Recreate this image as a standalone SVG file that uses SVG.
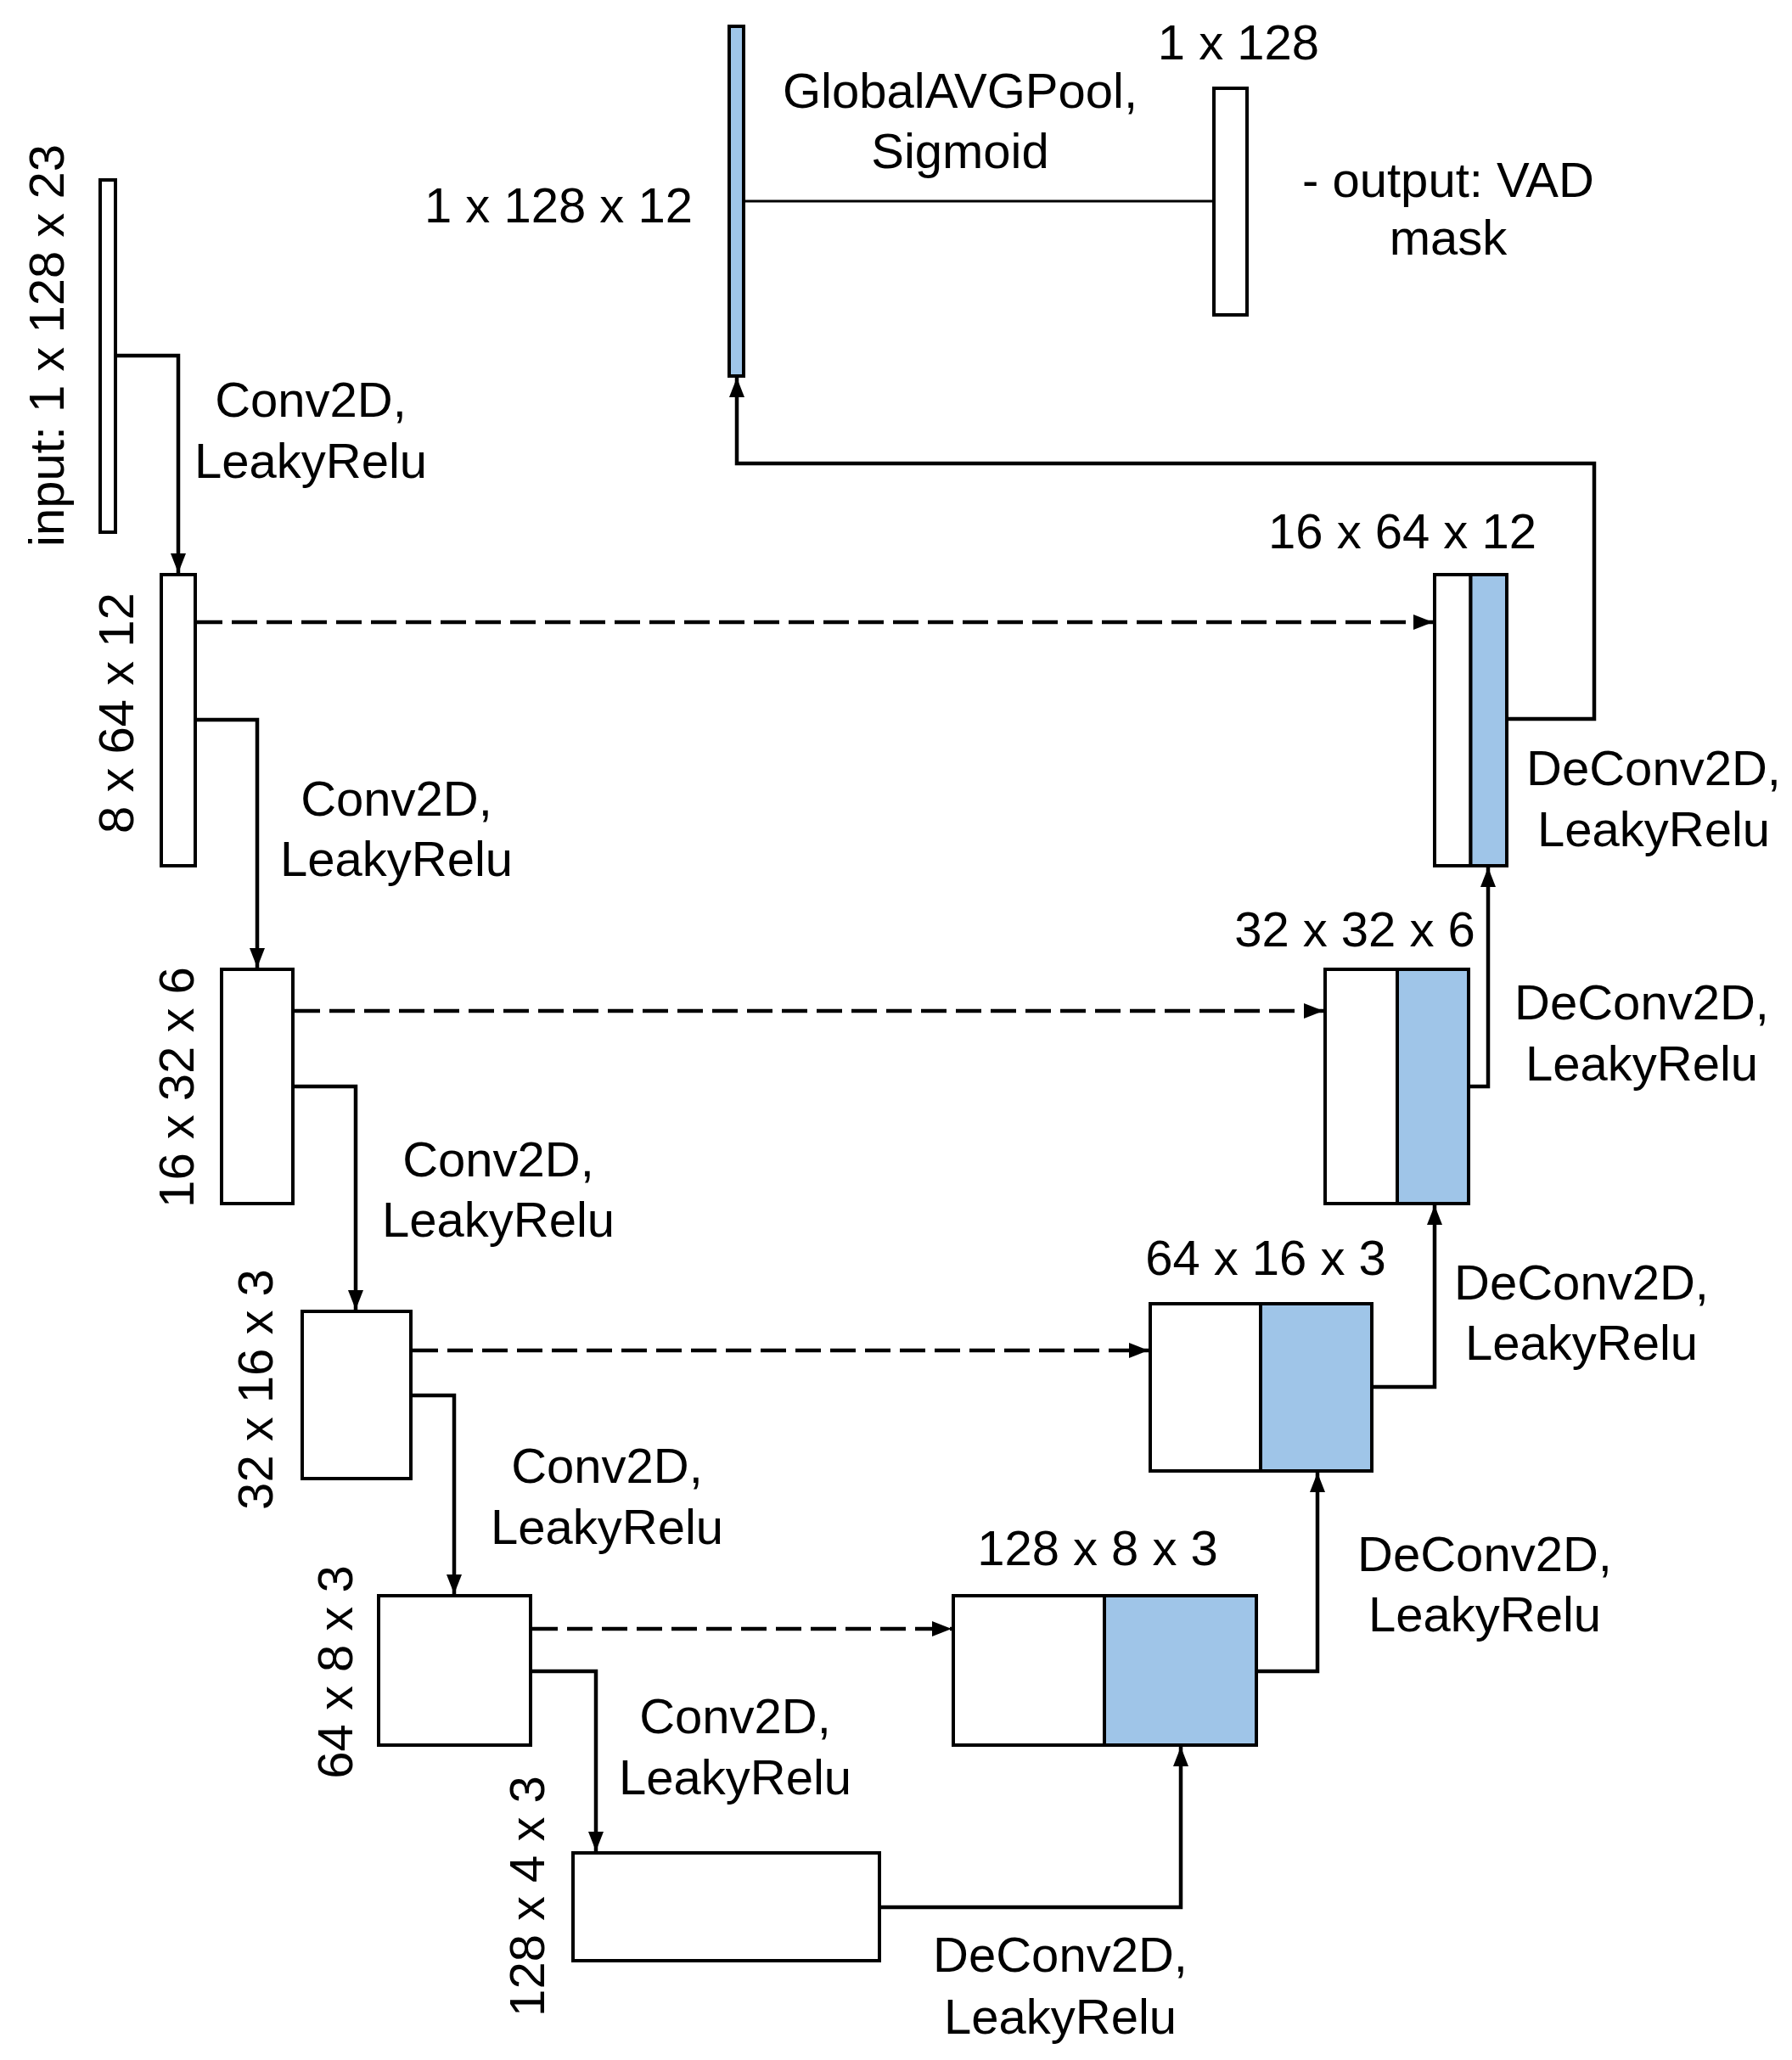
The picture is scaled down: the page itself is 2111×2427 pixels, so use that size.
<svg xmlns="http://www.w3.org/2000/svg" width="2111" height="2427" viewBox="0 0 2111 2427">
<defs>
<style>
text{font-family:"Liberation Sans",Arial,sans-serif;font-size:58px;fill:#000}
.m{text-anchor:middle}
.box{fill:#fff;stroke:#000;stroke-width:4}
.blue{fill:#9fc5e8;stroke:#000;stroke-width:4}
.ln{fill:none;stroke:#000;stroke-width:4.5}
.thin{fill:none;stroke:#000;stroke-width:3}
.dash{fill:none;stroke:#000;stroke-width:4.5;stroke-dasharray:30 11}
</style>
<marker id="ah" markerUnits="userSpaceOnUse" markerWidth="24" markerHeight="18" refX="23" refY="9" orient="auto">
<path d="M0,0 L23,9 L0,18 z" fill="#000"/>
</marker>
</defs>
<rect width="2111" height="2427" fill="#fff"/>

<g id="connectors">
<path class="ln" d="M136,419 H210 V675" marker-end="url(#ah)"/>
<path class="ln" d="M230,848 H303 V1140" marker-end="url(#ah)"/>
<path class="ln" d="M345,1280 H419 V1543" marker-end="url(#ah)"/>
<path class="ln" d="M484,1644 H535 V1878" marker-end="url(#ah)"/>
<path class="ln" d="M625,1969 H702 V2181" marker-end="url(#ah)"/>
<path class="ln" d="M1036,2247 H1391 V2058" marker-end="url(#ah)"/>
<path class="ln" d="M1480,1969 H1552 V1735" marker-end="url(#ah)"/>
<path class="ln" d="M1616,1634 H1690 V1420" marker-end="url(#ah)"/>
<path class="ln" d="M1730,1280 H1753 V1022" marker-end="url(#ah)"/>
<path class="ln" d="M1775,847 H1878 V546 H868 V445" marker-end="url(#ah)"/>
<path class="thin" d="M876,237 H1430"/>
<path class="dash" d="M232,733 H1688" marker-end="url(#ah)"/>
<path class="dash" d="M347,1191 H1559" marker-end="url(#ah)"/>
<path class="dash" d="M486,1591 H1353" marker-end="url(#ah)"/>
<path class="dash" d="M627,1919 H1121" marker-end="url(#ah)"/>
</g>

<g id="input">
<rect class="box" x="118" y="212" width="18" height="415"/>
<text class="m" x="75" y="407" transform="rotate(-90 75 407)">input:  1 x 128 x 23</text>
</g>
<g id="enc1">
<rect class="box" x="190" y="677" width="40" height="343"/>
<text class="m" x="157" y="840" transform="rotate(-90 157 840)">8 x 64 x 12</text>
</g>
<g id="enc2">
<rect class="box" x="261" y="1142" width="84" height="276"/>
<text class="m" x="228" y="1281" transform="rotate(-90 228 1281)">16 x 32 x 6</text>
</g>
<g id="enc3">
<rect class="box" x="356" y="1545" width="128" height="197"/>
<text class="m" x="321" y="1637" transform="rotate(-90 321 1637)">32 x 16 x 3</text>
</g>
<g id="enc4">
<rect class="box" x="446" y="1880" width="179" height="176"/>
<text class="m" x="415" y="1970" transform="rotate(-90 415 1970)">64 x 8 x 3</text>
</g>
<g id="bottleneck">
<rect class="box" x="675" y="2183" width="361" height="127"/>
<text class="m" x="641" y="2234" transform="rotate(-90 641 2234)">128 x 4 x 3</text>
</g>
<g id="dec4">
<rect class="box" x="1123" y="1880" width="178" height="176"/>
<rect class="blue" x="1301" y="1880" width="179" height="176"/>
<text class="m" x="1293" y="1844">128 x 8 x 3</text>
</g>
<g id="dec3">
<rect class="box" x="1355" y="1536" width="130" height="197"/>
<rect class="blue" x="1485" y="1536" width="131" height="197"/>
<text class="m" x="1491" y="1502">64 x 16 x 3</text>
</g>
<g id="dec2">
<rect class="box" x="1561" y="1142" width="85" height="276"/>
<rect class="blue" x="1646" y="1142" width="84" height="276"/>
<text class="m" x="1596" y="1115">32 x 32 x 6</text>
</g>
<g id="dec1">
<rect class="box" x="1690" y="677" width="42.5" height="343"/>
<rect class="blue" x="1732.5" y="677" width="42.5" height="343"/>
<text class="m" x="1652" y="646">16 x 64 x 12</text>
</g>
<g id="pooled">
<rect class="blue" x="859" y="31" width="17" height="412"/>
<text class="m" x="658" y="262">1 x 128 x 12</text>
</g>
<g id="output">
<rect class="box" x="1430" y="104" width="39" height="267"/>
<text class="m" x="1459" y="70">1 x 128</text>
<text class="m" x="1706" y="232">- output: VAD</text>
<text class="m" x="1706" y="300">mask</text>
</g>

<g id="labels">
<text class="m" x="1131" y="127">GlobalAVGPool,</text>
<text class="m" x="1131" y="198">Sigmoid</text>
<text class="m" x="366" y="491">Conv2D,</text>
<text class="m" x="366" y="563">LeakyRelu</text>
<text class="m" x="467" y="961">Conv2D,</text>
<text class="m" x="467" y="1032">LeakyRelu</text>
<text class="m" x="587" y="1386">Conv2D,</text>
<text class="m" x="587" y="1457">LeakyRelu</text>
<text class="m" x="715" y="1747">Conv2D,</text>
<text class="m" x="715" y="1819">LeakyRelu</text>
<text class="m" x="866" y="2042">Conv2D,</text>
<text class="m" x="866" y="2114">LeakyRelu</text>
<text class="m" x="1249" y="2323">DeConv2D,</text>
<text class="m" x="1249" y="2396">LeakyRelu</text>
<text class="m" x="1749" y="1851">DeConv2D,</text>
<text class="m" x="1749" y="1922">LeakyRelu</text>
<text class="m" x="1863" y="1531">DeConv2D,</text>
<text class="m" x="1863" y="1602">LeakyRelu</text>
<text class="m" x="1934" y="1201">DeConv2D,</text>
<text class="m" x="1934" y="1273">LeakyRelu</text>
<text class="m" x="1948" y="925">DeConv2D,</text>
<text class="m" x="1948" y="997">LeakyRelu</text>
</g>
</svg>
